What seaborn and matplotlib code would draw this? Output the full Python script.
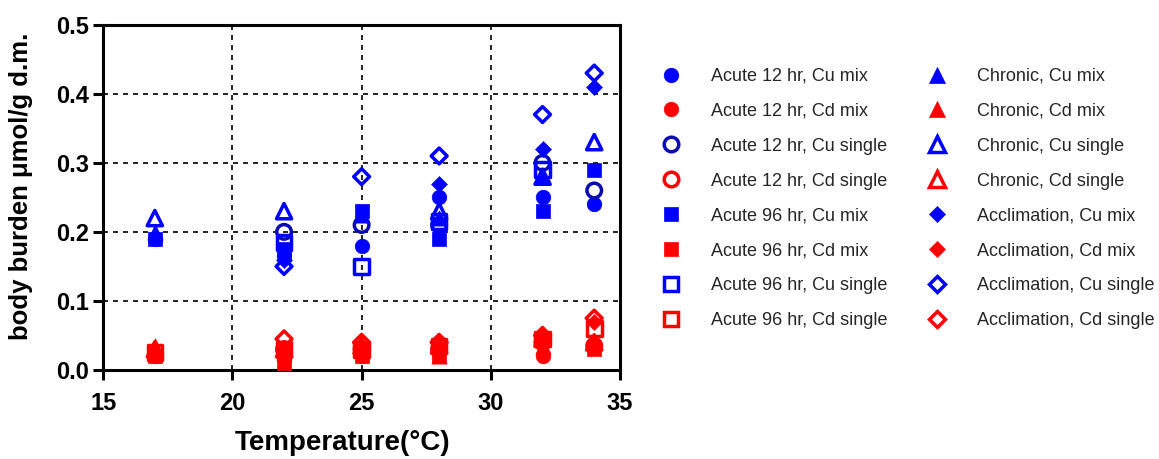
import numpy as np
import pandas as pd
import matplotlib
matplotlib.use("Agg")
import matplotlib.pyplot as plt
from matplotlib.lines import Line2D
import seaborn as sns

# temperatures sampled (deg C)
temps = [17, 22, 25, 28, 32, 34]
nan = np.nan

# body burden values (umol/g d.m.)
acute12_cu_mix = [0.19, 0.165, 0.18, 0.25, 0.25, 0.24]
acute12_cd_mix = [0.02, 0.02, 0.02, 0.025, 0.02, 0.035]
acute12_cu_single = [nan, 0.20, 0.21, 0.21, 0.30, 0.26]
acute12_cd_single = [nan, 0.03, 0.03, 0.03, 0.04, 0.035]
acute96_cu_mix = [0.19, 0.175, 0.23, 0.19, 0.23, 0.29]
acute96_cd_mix = [0.02, 0.01, 0.02, 0.02, 0.045, 0.03]
acute96_cu_single = [nan, 0.185, 0.15, 0.215, 0.29, nan]
acute96_cd_single = [0.025, 0.03, 0.03, 0.035, 0.045, 0.06]
chronic_cu_mix = [0.20, nan, 0.225, 0.22, 0.28, nan]
chronic_cd_mix = [0.035, 0.025, 0.03, 0.02, 0.035, 0.04]
chronic_cu_single = [0.22, 0.23, nan, 0.23, 0.28, 0.33]
chronic_cd_single = [0.03, 0.03, 0.035, 0.035, 0.045, 0.04]
accl_cu_mix = [nan, 0.16, nan, 0.27, 0.32, 0.41]
accl_cd_mix = [nan, 0.03, 0.035, 0.03, 0.04, 0.07]
accl_cu_single = [nan, 0.15, 0.28, 0.31, 0.37, 0.43]
accl_cd_single = [nan, 0.045, 0.04, 0.04, 0.05, 0.075]

BLUE = "#0000FF"
DBLUE = "#0A0AB4"
RED = "#FF0000"

# label, values, marker, colour, filled
series = [
    ("Acute 12 hr, Cu mix", acute12_cu_mix, "o", BLUE, True),
    ("Acute 12 hr, Cd mix", acute12_cd_mix, "o", RED, True),
    ("Acute 12 hr, Cu single", acute12_cu_single, "o", DBLUE, False),
    ("Acute 12 hr, Cd single", acute12_cd_single, "o", RED, False),
    ("Acute 96 hr, Cu mix", acute96_cu_mix, "s", BLUE, True),
    ("Acute 96 hr, Cd mix", acute96_cd_mix, "s", RED, True),
    ("Acute 96 hr, Cu single", acute96_cu_single, "s", BLUE, False),
    ("Acute 96 hr, Cd single", acute96_cd_single, "s", RED, False),
    ("Chronic, Cu mix", chronic_cu_mix, "^", BLUE, True),
    ("Chronic, Cd mix", chronic_cd_mix, "^", RED, True),
    ("Chronic, Cu single", chronic_cu_single, "^", BLUE, False),
    ("Chronic, Cd single", chronic_cd_single, "^", RED, False),
    ("Acclimation, Cu mix", accl_cu_mix, "D", BLUE, True),
    ("Acclimation, Cd mix", accl_cd_mix, "D", RED, True),
    ("Acclimation, Cu single", accl_cu_single, "D", BLUE, False),
    ("Acclimation, Cd single", accl_cd_single, "D", RED, False),
]

sns.set_style("white")
plt.rcParams['font.family'] = ['Liberation Sans', 'DejaVu Sans']

fig = plt.figure(figsize=(11.59, 4.59), dpi=100)
ax = fig.add_axes([0.089, 0.194, 0.446, 0.752])

sizes = {"o": 110, "s": 110, "^": 120, "D": 65}
handles = []
for label, vals, mk, col, filled in series:
    df = pd.DataFrame({"temp": temps, "burden": vals}).dropna()
    if filled:
        sns.scatterplot(data=df, x="temp", y="burden", ax=ax, marker=mk,
                        s=sizes[mk], color=col, edgecolor=col, linewidth=0.5,
                        zorder=3)
    else:
        sns.scatterplot(data=df, x="temp", y="burden", ax=ax, marker=mk,
                        s=sizes[mk], facecolor="none", edgecolor=col,
                        linewidth=2.5, zorder=3)
    ms = np.sqrt(sizes[mk])
    handles.append(Line2D([], [], linestyle="none", marker=mk, markersize=ms,
                          markerfacecolor=col if filled else "white",
                          markeredgecolor=col,
                          markeredgewidth=0.5 if filled else 2.5))

ax.set_xlim(15, 35)
ax.set_ylim(0, 0.5)
ax.set_xticks([15, 20, 25, 30, 35])
ax.set_yticks([0.0, 0.1, 0.2, 0.3, 0.4, 0.5])
ax.set_yticklabels(["0.0", "0.1", "0.2", "0.3", "0.4", "0.5"])
ax.grid(True, color="black", linestyle=(0, (3, 3)), linewidth=1.2)
ax.set_axisbelow(True)
for sp in ax.spines.values():
    sp.set_visible(True)
    sp.set_color("black")
    sp.set_linewidth(2.2)
ax.tick_params(axis="both", which="major", direction="out", length=7,
               width=2.2, color="black", labelcolor="black", labelsize=17,
               bottom=True, left=True)
ax.tick_params(axis="x", pad=9)
ax.tick_params(axis="y", pad=3)
for t in ax.get_xticklabels() + ax.get_yticklabels():
    t.set_fontweight("bold")

ax.set_xlabel("Temperature(\u00b0C)", fontsize=20, fontweight="bold",
              color="black")
ax.xaxis.set_label_coords(0.464, -0.212)
ax.xaxis.label.set_va("center")
ax.set_ylabel("body burden \u03bcmol/g d.m.", fontsize=18.5, fontweight="bold",
              color="black")
ax.yaxis.set_label_coords(-0.135, 0.533)

ax.legend(handles, [s[0] for s in series], ncol=2, frameon=False,
          loc="upper left", bbox_to_anchor=(1.064, 0.896), fontsize=13,
          labelspacing=0.99, handlelength=1.2, handletextpad=1.6,
          columnspacing=2.17, borderaxespad=0)

fig.savefig("out.png", dpi=100)
